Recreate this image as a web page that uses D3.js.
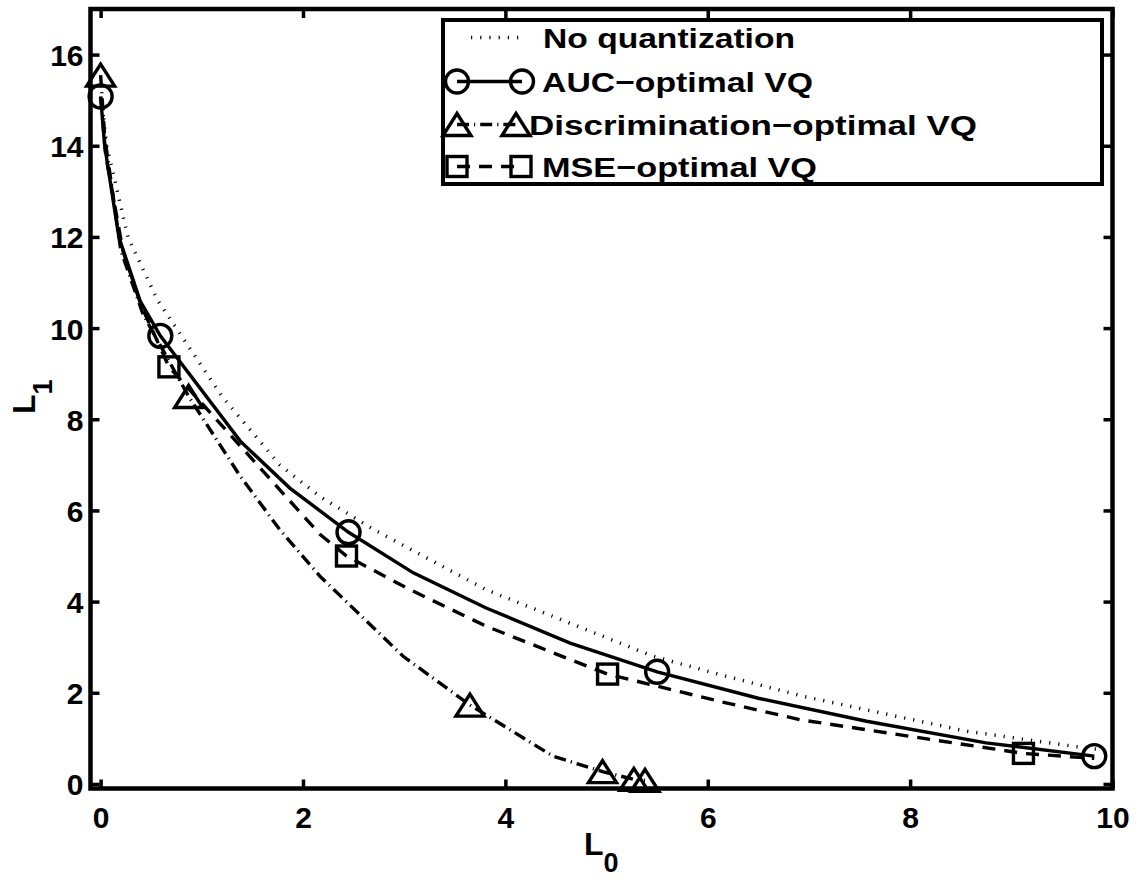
<!DOCTYPE html>
<html>
<head>
<meta charset="utf-8">
<script src="https://cdn.jsdelivr.net/npm/d3@7"></script>
<style>
  html, body { margin: 0; padding: 0; background: #fff; }
  svg { display: block; }
  text { font-family: "Liberation Sans", Arial, Helvetica, sans-serif; font-weight: bold; fill: #000; }
</style>
</head>
<body>
<svg id="chart" width="1140" height="880"></svg>
<script>
// ---------------- data ----------------
const xTicks = [0, 2, 4, 6, 8, 10];
const yTicks = [0, 2, 4, 6, 8, 10, 12, 14, 16];
const seriesNames = ["No quantization", "AUC\u2212optimal VQ", "Discrimination\u2212optimal VQ", "MSE\u2212optimal VQ"];

// No quantization (dotted curve)
const noQuantL0 = [0.01, 0.06, 0.27, 0.56, 1.2, 1.77, 2.17, 2.70, 3.81, 5.46, 6.12, 6.95, 8.55, 9.70, 10.0];
const noQuantL1 = [15.0, 14.0, 12.0, 10.62, 8.5, 7.0, 6.3, 5.58, 4.26, 2.80, 2.40, 1.92, 1.16, 0.80, 0.72];

// AUC-optimal VQ (solid line, circles)
const aucLineL0 = [0.0, 0.04, 0.18, 0.39, 0.59, 1.38, 1.87, 2.45, 3.09, 3.81, 4.64, 5.5, 6.5, 7.57, 8.75, 9.82];
const aucLineL1 = [15.08, 14.0, 12.0, 10.6, 9.83, 7.52, 6.49, 5.52, 4.63, 3.86, 3.09, 2.46, 1.88, 1.375, 0.9, 0.61];
const aucMarkL0 = [0.0, 0.59, 2.45, 5.5, 9.82];
const aucMarkL1 = [15.08, 9.83, 5.52, 2.46, 0.61];

// Discrimination-optimal VQ (dash-dot line, triangles)
const discLineL0 = [0.0, 0.04, 0.2, 0.42, 0.87, 1.38, 1.77, 2.17, 2.99, 3.65, 4.47, 4.96, 5.27, 5.38];
const discLineL1 = [15.55, 14.2, 11.7, 10.3, 8.5, 6.75, 5.58, 4.55, 2.80, 1.73, 0.61, 0.27, 0.10, 0.08];
const discMarkL0 = [0.0, 0.87, 3.65, 4.96, 5.27, 5.38];
const discMarkL1 = [15.55, 8.5, 1.73, 0.27, 0.10, 0.08];

// MSE-optimal VQ (dashed line, squares)
const mseLineL0 = [0.0, 0.05, 0.22, 0.40, 0.675, 2.17, 2.43, 3.06, 3.81, 4.64, 5.01, 6.12, 6.91, 8.22, 9.12, 9.82];
const mseLineL1 = [15.08, 13.8, 11.7, 10.5, 9.15, 5.47, 5.0, 4.26, 3.46, 2.73, 2.41, 1.81, 1.41, 0.97, 0.67, 0.56];
const mseMarkL0 = [0.675, 2.43, 5.01, 9.12];
const mseMarkL1 = [9.15, 5.0, 2.41, 0.67];

// ---------------- layout ----------------
const svg = d3.select("#chart");
const x = d3.scaleLinear().domain([-0.1, 10]).range([90.5, 1112.5]);
const y = d3.scaleLinear().domain([-0.1, 17]).range([788.5, 9]);
const zip = (a, b) => a.map((v, i) => [v, b[i]]);
const SW = 3.4;

const line = d3.line().x(d => x(d[0])).y(d => y(d[1]));

const plot = svg.append("g");

// curves
plot.append("path").datum(zip(noQuantL0, noQuantL1))
  .attr("d", line).attr("fill", "none").attr("stroke", "#000")
  .attr("stroke-width", 3.5).attr("stroke-dasharray", "1.2,8");
plot.append("path").datum(zip(aucLineL0, aucLineL1))
  .attr("d", line).attr("fill", "none").attr("stroke", "#000")
  .attr("stroke-width", SW);
plot.append("path").datum(zip(discLineL0, discLineL1))
  .attr("d", line).attr("fill", "none").attr("stroke", "#000")
  .attr("stroke-width", SW).attr("stroke-dasharray", "12,5,1.2,5");
plot.append("path").datum(zip(mseLineL0, mseLineL1))
  .attr("d", line).attr("fill", "none").attr("stroke", "#000")
  .attr("stroke-width", SW).attr("stroke-dasharray", "13,9");

// marker drawers
function drawCircle(g, cx, cy) {
  g.append("circle").attr("cx", cx).attr("cy", cy).attr("r", 11.5)
    .attr("fill", "none").attr("stroke", "#000").attr("stroke-width", SW);
}
function drawSquare(g, cx, cy) {
  g.append("rect").attr("x", cx - 10).attr("y", cy - 10).attr("width", 20).attr("height", 20)
    .attr("fill", "none").attr("stroke", "#000").attr("stroke-width", SW);
}
function drawTriangle(g, cx, cy) {
  const w = 28, h = 22;
  g.append("path").attr("d", `M${cx},${cy - h / 2} L${cx + w / 2},${cy + h / 2} L${cx - w / 2},${cy + h / 2} Z`)
    .attr("fill", "none").attr("stroke", "#000").attr("stroke-width", SW).attr("stroke-linejoin", "miter");
}

zip(aucMarkL0, aucMarkL1).forEach(d => drawCircle(plot, x(d[0]), y(d[1])));
zip(discMarkL0, discMarkL1).forEach(d => drawTriangle(plot, x(d[0]), y(d[1])));
zip(mseMarkL0, mseMarkL1).forEach(d => drawSquare(plot, x(d[0]), y(d[1])));

// ---------------- axes box & ticks ----------------
const [x0, x1] = x.range();
const [y0, y1] = y.range();
const tickLen = 9;

const axB = svg.append("g").attr("transform", `translate(0,${y0})`)
  .call(d3.axisBottom(x).tickValues(xTicks).tickSize(-tickLen).tickPadding(0).tickFormat(d3.format("d")));
const axT = svg.append("g").attr("transform", `translate(0,${y1})`)
  .call(d3.axisTop(x).tickValues(xTicks).tickSize(-tickLen).tickFormat(""));
const axL = svg.append("g").attr("transform", `translate(${x0},0)`)
  .call(d3.axisLeft(y).tickValues(yTicks).tickSize(-tickLen).tickPadding(0).tickFormat(d3.format("d")));
const axR = svg.append("g").attr("transform", `translate(${x1},0)`)
  .call(d3.axisRight(y).tickValues(yTicks).tickSize(-tickLen).tickFormat(""));

[axB, axT, axL, axR].forEach(a => {
  a.select(".domain").remove();
  a.selectAll(".tick line").attr("stroke", "#000").attr("stroke-width", 3.5);
  a.selectAll("text").attr("font-size", 30).attr("font-family", null).attr("fill", "#000");
});
axB.selectAll(".tick text").attr("y", 0).attr("dy", null).attr("transform", "translate(0,39)");
axL.selectAll(".tick text").attr("x", -7).attr("dy", null).attr("transform", "translate(0,11)");

svg.append("rect").attr("x", x0).attr("y", y1).attr("width", x1 - x0).attr("height", y0 - y1)
  .attr("fill", "none").attr("stroke", "#000").attr("stroke-width", 4.5);

// ---------------- axis labels ----------------
const xl = svg.append("text").attr("x", 584).attr("y", 855).attr("font-size", 32);
xl.append("tspan").text("L");
xl.append("tspan").attr("dy", 17).attr("font-size", 27).text("0");

const yl = svg.append("text").attr("transform", "translate(35,414) rotate(-90)").attr("font-size", 32);
yl.append("tspan").text("L");
yl.append("tspan").attr("dy", 17).attr("font-size", 27).text("1");

// ---------------- legend ----------------
const lg = svg.append("g");
lg.append("rect").attr("x", 443).attr("y", 20).attr("width", 659).attr("height", 164)
  .attr("fill", "#fff").attr("stroke", "#000").attr("stroke-width", 4);

const rowY = [37.5, 81.5, 124.5, 166.5];
const textX = [543, 542, 529, 542];
const textW = [252, 271, 448, 275];
const sampleX1 = [457, 457, 457, 457];
const sampleX2 = [521, 522, 516, 521];
const dashes = ["1.2,8", null, "12,5,1.2,5", "13,9"];

seriesNames.forEach((name, i) => {
  const ly = rowY[i];
  const ln = lg.append("line").attr("x1", sampleX1[i]).attr("x2", sampleX2[i])
    .attr("y1", ly).attr("y2", ly).attr("stroke", "#000").attr("stroke-width", SW);
  if (dashes[i]) ln.attr("stroke-dasharray", dashes[i]);
  if (i === 0) ln.attr("x1", 471).attr("x2", 520);
  if (i === 1) { drawCircle(lg, sampleX1[i], ly); drawCircle(lg, sampleX2[i], ly); }
  if (i === 2) { drawTriangle(lg, sampleX1[i], ly); drawTriangle(lg, sampleX2[i], ly); }
  if (i === 3) { drawSquare(lg, sampleX1[i], ly); drawSquare(lg, sampleX2[i], ly); }
  lg.append("text").attr("x", textX[i]).attr("y", ly + 10).attr("font-size", 28)
    .attr("textLength", textW[i]).attr("lengthAdjust", "spacingAndGlyphs").text(name);
});
</script>
</body>
</html>
